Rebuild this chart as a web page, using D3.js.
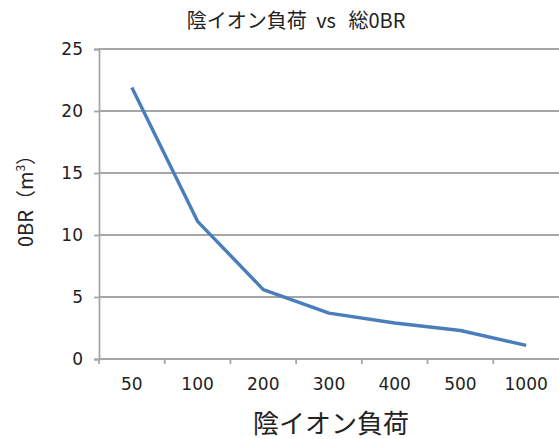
<!DOCTYPE html>
<html>
<head>
<meta charset="utf-8">
<script src="https://cdn.jsdelivr.net/npm/d3@7"></script>
<style>
  html, body { margin: 0; padding: 0; background: #fff; }
  text { font-family: "Noto Sans CJK JP", "Noto Sans", sans-serif; }
</style>
</head>
<body>
<svg id="chart" width="559" height="439"></svg>
<script>
// Anion load categories and total OBR (m³)
const categories = ["50", "100", "200", "300", "400", "500", "1000"];
const obrValues = [21.9, 11.1, 5.6, 3.7, 2.9, 2.3, 1.1];
const yTicks = [0, 5, 10, 15, 20, 25];

const svg = d3.select("#chart");
const margin = { top: 49, right: 0, bottom: 80, left: 99 };
const width = 559 - margin.left - margin.right;
const height = 439 - margin.top - margin.bottom;

const g = svg.append("g").attr("transform", `translate(${margin.left},${margin.top})`);

const x = d3.scaleBand().domain(categories).range([0, width]);
const y = d3.scaleLinear().domain([0, 25]).range([height, 0]);

const gridColor = "#a6a6a6";
const tickFont = "'DejaVu Sans', sans-serif";

// horizontal gridlines
g.selectAll("line.grid").data(yTicks).join("line")
  .attr("class", "grid")
  .attr("x1", 0).attr("x2", width)
  .attr("y1", d => y(d)).attr("y2", d => y(d))
  .attr("stroke", gridColor).attr("stroke-width", 1.8);

// y axis
const yAxis = g.append("g")
  .call(d3.axisLeft(y).tickValues(yTicks).tickSize(5).tickPadding(11).tickFormat(d3.format("d")));
yAxis.select(".domain").attr("stroke", gridColor).attr("stroke-width", 1.8);
yAxis.selectAll(".tick line").attr("stroke", gridColor).attr("stroke-width", 1.8);
yAxis.selectAll(".tick text").attr("font-size", 17).attr("fill", "#222")
  .style("font-family", tickFont);

// x axis: ticks at band boundaries
const xAxisG = g.append("g").attr("transform", `translate(0,${height})`);
xAxisG.append("line").attr("x1", 0).attr("x2", width)
  .attr("stroke", gridColor).attr("stroke-width", 1.8);
xAxisG.selectAll("line.tick").data(categories).join("line")
  .attr("class", "tick")
  .attr("x1", d => x(d)).attr("x2", d => x(d)).attr("y1", 0).attr("y2", 5)
  .attr("stroke", gridColor).attr("stroke-width", 1.8);
xAxisG.selectAll("text.lab").data(categories).join("text")
  .attr("class", "lab")
  .attr("x", d => x(d) + x.bandwidth() / 2)
  .attr("y", 31)
  .attr("text-anchor", "middle")
  .attr("font-size", 17).attr("fill", "#222")
  .style("font-family", tickFont)
  .text(d => d);

// data line
const line = d3.line()
  .x((d, i) => x(categories[i]) + x.bandwidth() / 2)
  .y(d => y(d));
g.append("path").datum(obrValues)
  .attr("d", line)
  .attr("fill", "none")
  .attr("stroke", "#4a7ebb")
  .attr("stroke-width", 3.4)
  .attr("stroke-linejoin", "round");

// chart title
const title = svg.append("text")
  .attr("x", 296).attr("y", 28)
  .attr("text-anchor", "middle")
  .attr("font-size", 20).attr("fill", "#222");
title.append("tspan").text("陰イオン負荷");
title.append("tspan").attr("dx", 5).text(" vs");
title.append("tspan").attr("dx", 8).text(" 総0BR");

// x axis title
svg.append("text")
  .attr("x", 331).attr("y", 433)
  .attr("text-anchor", "middle")
  .attr("font-size", 26).attr("fill", "#222")
  .text("陰イオン負荷");

// y axis title
const yt = svg.append("text")
  .attr("transform", "translate(33,196) rotate(-90)")
  .attr("text-anchor", "middle")
  .attr("font-size", 20).attr("fill", "#222");
yt.append("tspan").text("0BR（m");
yt.append("tspan").attr("font-size", 12).attr("dy", -8).text("3");
yt.append("tspan").attr("dy", 8).text("）");
</script>
</body>
</html>
